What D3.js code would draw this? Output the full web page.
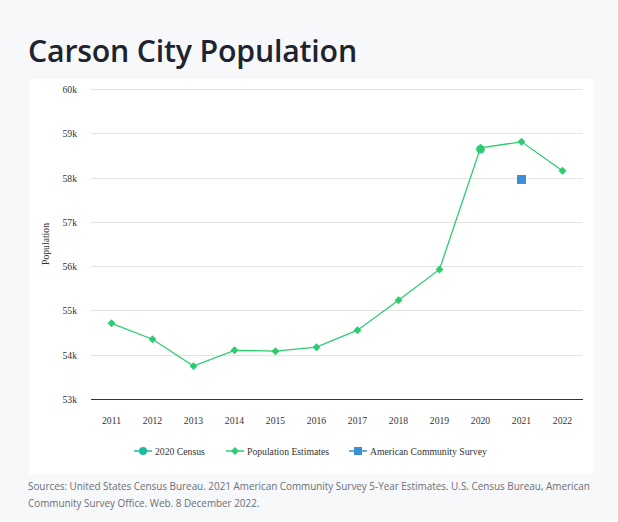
<!DOCTYPE html>
<html>
<head>
<meta charset="utf-8">
<script src="https://cdn.jsdelivr.net/npm/d3@7"></script>
<style>
  body { margin: 0; background: #f7f8fa; }
  #page { position: relative; width: 618px; height: 522px; }
  h1 { position: absolute; left: 28px; top: 30px; margin: 0; font: 600 30.3px "Open Sans", "Noto Sans", sans-serif; color: #1d2430; letter-spacing: -0.2px; }
  #card { position: absolute; left: 29px; top: 79px; width: 564px; height: 395px; background: #fff; }
  #src { position: absolute; left: 28px; top: 478px; width: 590px; white-space: nowrap; font: 9.9px "Open Sans", "Noto Sans", sans-serif; line-height: 17px; color: #6b6f76; }
</style>
</head>
<body>
<div id="page">
  <h1>Carson City Population</h1>
  <div id="card"></div>
  <div id="src">Sources: United States Census Bureau. 2021 American Community Survey 5-Year Estimates. U.S. Census Bureau, American<br>Community Survey Office. Web. 8 December 2022.</div>
</div>
<script>
const years = ["2011","2012","2013","2014","2015","2016","2017","2018","2019","2020","2021","2022"];
const estimates = [54710, 54350, 53743, 54100, 54080, 54170, 54553, 55228, 55926, 58672, 58807, 58154];
const censusYears = ["2020"];
const census = [58639];
const acsYears = ["2021"];
const acs = [57957];
const yTicks = [53000, 54000, 55000, 56000, 57000, 58000, 59000, 60000];

const W = 564, H = 395;
const svg = d3.select("#card").append("svg").attr("width", W).attr("height", H);

// plot area in card coordinates
const plotL = 62, plotR = 554, plotT = 10, plotB = 320;
const tickFont = "9.7px 'Liberation Serif', serif";

const x = d3.scaleBand().domain(years).range([plotL, plotR]);
const y = d3.scaleLinear().domain([53000, 60000]).range([plotB, plotT]);

// gridlines
svg.selectAll(".grid").data(yTicks.slice(1)).enter().append("line")
  .attr("x1", plotL).attr("x2", plotR)
  .attr("y1", d => Math.round(y(d)) + 0.5).attr("y2", d => Math.round(y(d)) + 0.5)
  .attr("stroke", "#e3e3e3").attr("stroke-width", 1);

// y axis labels
svg.selectAll(".ylab").data(yTicks).enter().append("text")
  .attr("x", plotL - 14).attr("y", d => y(d) + 4)
  .attr("text-anchor", "end")
  .style("font", tickFont).attr("fill", "#333")
  .text(d => (d / 1000) + "k");

svg.append("text")
  .attr("transform", `translate(${20},${(plotT + plotB) / 2}) rotate(-90)`)
  .attr("text-anchor", "middle")
  .style("font", tickFont).attr("fill", "#333")
  .text("Population");

// x axis
svg.append("line").attr("x1", plotL).attr("x2", plotR)
  .attr("y1", plotB + 0.5).attr("y2", plotB + 0.5)
  .attr("stroke", "#333").attr("stroke-width", 1.2);

svg.selectAll(".xlab").data(years).enter().append("text")
  .attr("x", d => x(d) + x.bandwidth() / 2).attr("y", plotB + 25)
  .attr("text-anchor", "middle")
  .style("font", tickFont).attr("fill", "#333")
  .text(d => d);

const cx = d => x(d) + x.bandwidth() / 2;
const green = "#2ecc71", teal = "#1abc9c", blue = "#3a8fd6";

// estimates line
const line = d3.line().x((d, i) => cx(years[i])).y(d => y(d));
svg.append("path").datum(estimates)
  .attr("d", line).attr("fill", "none")
  .attr("stroke", green).attr("stroke-width", 1.3);

const diamond = d3.symbol().type(d3.symbolDiamond2).size(40);
svg.selectAll(".est").data(estimates).enter().append("path")
  .attr("d", diamond)
  .attr("transform", (d, i) => `translate(${cx(years[i])},${y(d)})`)
  .attr("fill", green);

// census
svg.selectAll(".cen").data(census).enter().append("circle")
  .attr("cx", (d, i) => cx(censusYears[i])).attr("cy", d => y(d))
  .attr("r", 4.3).attr("fill", green);

// acs
svg.selectAll(".acs").data(acs).enter().append("rect")
  .attr("x", (d, i) => cx(acsYears[i]) - 4.5).attr("y", d => y(d) - 4.5)
  .attr("width", 9).attr("height", 9).attr("fill", blue);

// legend
const leg = svg.append("g").attr("transform", `translate(0, ${372})`);
const items = [
  { label: "2020 Census", x: 105, color: teal, shape: "circle" },
  { label: "Population Estimates", x: 197, color: green, shape: "diamond" },
  { label: "American Community Survey", x: 320, color: blue, shape: "square" }
];
items.forEach(it => {
  const g = leg.append("g").attr("transform", `translate(${it.x},0)`);
  g.append("line").attr("x1", 0).attr("x2", 18).attr("stroke", it.color).attr("stroke-width", 1.5);
  if (it.shape === "circle") g.append("circle").attr("cx", 9).attr("r", 4).attr("fill", it.color);
  else if (it.shape === "diamond") g.append("path").attr("d", diamond).attr("transform", "translate(9,0)").attr("fill", it.color);
  else g.append("rect").attr("x", 5).attr("y", -4).attr("width", 8).attr("height", 8).attr("fill", it.color);
  g.append("text").attr("x", 21).attr("y", 3.5)
    .style("font", tickFont).attr("fill", "#333")
    .text(it.label);
});
</script>
</body>
</html>
